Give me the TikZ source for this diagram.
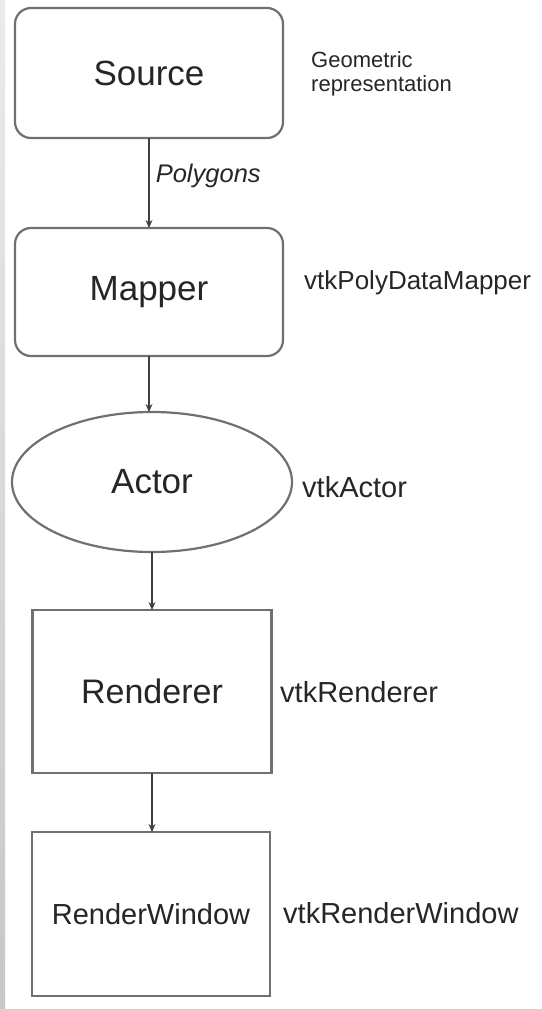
\documentclass[tikz,border=0pt]{standalone}
\usepackage{fontspec}
\setmainfont{Liberation Sans}
\usetikzlibrary{arrows.meta,shapes.geometric}
\definecolor{boxline}{HTML}{707070}
\definecolor{txt}{HTML}{262626}
\definecolor{arr}{HTML}{404040}
\tikzset{
  blk/.style={draw=boxline,line width=2.2pt,fill=white,inner sep=0pt,outer sep=0pt,text=txt},
  rbox/.style={blk,rounded corners=16pt},
  sbox/.style={blk},
  oval/.style={blk,ellipse},
  big/.style={font=\fontsize{35}{40}\selectfont},
  mid/.style={font=\fontsize{29}{34}\selectfont},
  side/.style={anchor=west,inner sep=0pt,text=txt,font=\fontsize{29}{34}\selectfont},
  conn/.style={draw=arr,line width=1.6pt,-{Stealth[length=8pt,width=7pt]}}
}
\begin{document}
\begin{tikzpicture}[x=1pt,y=-1pt]
\useasboundingbox (0,0) rectangle (541,1009);
\shade[top color=white!92!black,bottom color=white!78!black] (0,0) rectangle (5,1009);

\node[rbox,big,minimum width=268pt,minimum height=130pt] (src) at (149,73) {Source};
\node[rbox,big,minimum width=268pt,minimum height=128pt] (map) at (149,292) {Mapper};
\node[oval,big,minimum width=280pt,minimum height=140pt] (act) at (152,482) {Actor};
\node[sbox,big,font=\fontsize{34}{38}\selectfont,minimum width=239pt,minimum height=163pt] (ren) at (152,691.5) {Renderer};
\node[sbox,mid,minimum width=238pt,minimum height=164pt] (win) at (151,914) {RenderWindow};

\node[side,font=\fontsize{22}{26}\selectfont,align=left] (geo) at (311,74) {Geometric\\[-2pt]representation};
\node[side,font=\fontsize{26}{30}\selectfont] (pdm) at (304,283) {vtkPolyDataMapper};
\node[side] (vact) at (302,487) {vtkActor};
\node[side] (vren) at (280,692) {vtkRenderer};
\node[side] (vwin) at (283,913) {vtkRenderWindow};

\draw[conn] (src.south) -- node[right=6pt,inner sep=0pt,text=txt,font=\itshape\fontsize{25.5}{30}\selectfont,pos=0.42] (poly) {Polygons} (src.south |- map.north);
\draw[conn] (map.south) -- (map.south |- act.north);
\draw[conn] (act.south) -- (act.south |- ren.north);
\draw[conn] (ren.south) -- (ren.south |- win.north);
\end{tikzpicture}
\end{document}
